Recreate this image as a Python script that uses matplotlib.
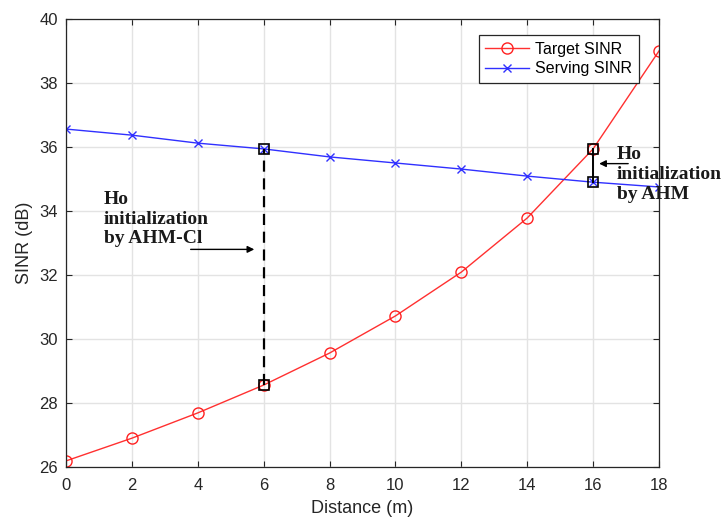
import matplotlib
matplotlib.use("Agg")
import matplotlib.pyplot as plt
import numpy as np

distance = [0, 2, 4, 6, 8, 10, 12, 14, 16, 18]
target_sinr = [26.19, 26.9, 27.69, 28.56, 29.56, 30.72, 32.09, 33.78, 35.94, 39.0]
serving_sinr = [36.56, 36.37, 36.12, 35.94, 35.69, 35.5, 35.31, 35.09, 34.9, 34.75]
xticks = [0, 2, 4, 6, 8, 10, 12, 14, 16, 18]
yticks = [26, 28, 30, 32, 34, 36, 38, 40]

plt.rcParams['font.family'] = ['Liberation Sans', 'DejaVu Sans']

fig = plt.figure(figsize=(7.22, 5.23), dpi=100)
ax = fig.add_axes([0.0914, 0.1071, 0.8213, 0.8566])

ax.plot(distance, target_sinr, color='#ff3030', lw=1.0, marker='o', ms=8,
        mfc='none', mec='#ff2020', mew=1.0, label='Target SINR')
ax.plot(distance, serving_sinr, color='#3030ff', lw=1.0, marker='x', ms=6,
        mec='#3030ff', mew=1.0, label='Serving SINR')

# AHM-CI handover point (dashed) at distance 6
i6 = distance.index(6)
ax.plot([6, 6], [target_sinr[i6], serving_sinr[i6]], color='black', ls=(0, (5, 3)), lw=1.6, zorder=4)
ax.plot([6, 6], [target_sinr[i6], serving_sinr[i6]], ls='none', marker='s', ms=7,
        mfc='none', mec='black', mew=1.2, zorder=5)
# AHM handover point (solid) at distance 16
i16 = distance.index(16)
ax.plot([16, 16], [serving_sinr[i16], target_sinr[i16]], color='black', lw=1.4, zorder=4)
ax.plot([16, 16], [serving_sinr[i16], target_sinr[i16]], ls='none', marker='s', ms=7,
        mfc='none', mec='black', mew=1.2, zorder=5)

serif = ['Liberation Serif', 'DejaVu Serif']
ax.text(1.15, 34.62, 'Ho\ninitialization\nby AHM-Cl', fontsize=14, fontweight='bold',
        family=serif, va='top', ha='left', linespacing=1.2, color='#1a1a1a')
ax.annotate('', xy=(5.8, 32.8), xytext=(3.7, 32.8),
            arrowprops=dict(arrowstyle='-|>', color='black', lw=1.0, mutation_scale=10))
ax.text(16.72, 36.02, 'Ho\ninitialization\nby AHM', fontsize=14, fontweight='bold',
        family=serif, va='top', ha='left', linespacing=1.2, color='#1a1a1a', clip_on=False)
ax.annotate('', xy=(16.1, 35.48), xytext=(17.15, 35.48),
            arrowprops=dict(arrowstyle='-|>', color='black', lw=1.0, mutation_scale=10))

ax.set_xlim(0, 18)
ax.set_ylim(26, 40)
ax.set_xticks(xticks)
ax.set_yticks(yticks)
ax.grid(True, color='#e3e3e3', lw=1.0)
ax.set_axisbelow(True)
ax.tick_params(direction='in', top=True, right=True, labelsize=12, colors='#262626',
               length=4, width=0.8)
ax.tick_params(axis='x', pad=8)
ax.tick_params(axis='y', pad=6)
for s in ax.spines.values():
    s.set_color('#262626')
    s.set_linewidth(0.9)

ax.set_xlabel('Distance (m)', fontsize=13, color='#262626', labelpad=5)
ax.set_ylabel('SINR (dB)', fontsize=13, color='#262626', labelpad=4)

leg = ax.legend(loc='upper right', bbox_to_anchor=(0.966, 0.964), fontsize=11.5,
                frameon=True, fancybox=False, framealpha=1, edgecolor='#262626',
                handlelength=2.75, borderpad=0.4, labelspacing=0.3, handletextpad=0.4,
                borderaxespad=0.0)
leg.get_frame().set_linewidth(0.9)

fig.savefig('out.png', dpi=100)
